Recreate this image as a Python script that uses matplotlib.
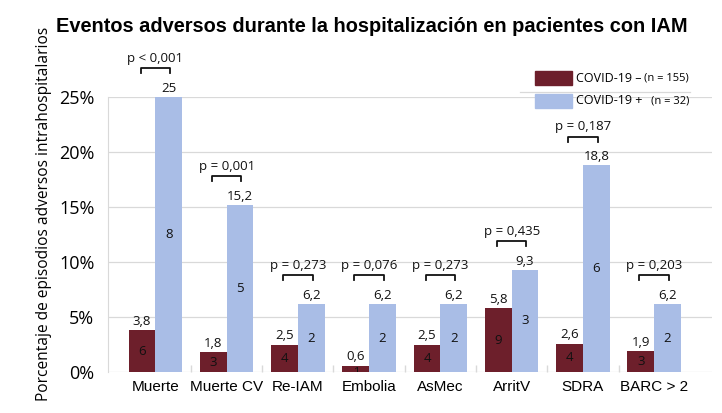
import matplotlib
matplotlib.use("Agg")
import matplotlib.pyplot as plt
import numpy as np
from matplotlib.patches import Rectangle
from matplotlib.lines import Line2D

categories = ["Muerte", "Muerte CV", "Re-IAM", "Embolia", "AsMec", "ArritV", "SDRA", "BARC > 2"]
neg_pct = [3.8, 1.8, 2.5, 0.6, 2.5, 5.8, 2.6, 1.9]
pos_pct = [25, 15.2, 6.2, 6.2, 6.2, 9.3, 18.8, 6.2]
neg_n = [6, 3, 4, 1, 4, 9, 4, 3]
pos_n = [8, 5, 2, 2, 2, 3, 6, 2]
p_values = ["p < 0,001", "p = 0,001", "p = 0,273", "p = 0,076", "p = 0,273", "p = 0,435", "p = 0,187", "p = 0,203"]
yticks = [0, 5, 10, 15, 20, 25]
ytick_labels = ["0%", "5%", "10%", "15%", "20%", "25%"]

dark = "#6d1f2b"
light = "#a9bde6"
grid_c = "#d9d9d9"

fig = plt.figure(figsize=(7.22, 4.13), dpi=100)
ax = fig.add_axes([0.150, 0.099, 0.836, 0.666])

x = np.arange(len(categories))
w = 0.375
ax.bar(x - w / 2, neg_pct, width=w, color=dark, zorder=3)
ax.bar(x + w / 2, pos_pct, width=w, color=light, zorder=3)

ax.set_ylim(0, 25)
ax.set_xlim(-0.66, 7.81)
ax.set_yticks(yticks)
ax.set_yticklabels(ytick_labels, fontfamily="Open Sans", fontsize=13)
ax.yaxis.grid(True, color=grid_c, linewidth=0.9, zorder=0)
ax.tick_params(axis="y", length=0, pad=10)
ax.set_xticks(x)
ax.set_xticklabels(categories, fontfamily="Liberation Sans", fontsize=11)
ax.tick_params(axis="x", length=0, pad=6)
ax.set_xticks(np.arange(len(categories) - 1) + 0.5, minor=True)
ax.tick_params(axis="x", which="minor", direction="in", length=5, color=grid_c, width=1)
for s in ["top", "right", "bottom"]:
    ax.spines[s].set_visible(False)
ax.spines["left"].set_color(grid_c)

lbl_font = dict(fontfamily="Open Sans", fontsize=9.5, color="#111111")
for i in range(len(categories)):
    ax.text(x[i] - w / 2, neg_pct[i] + 0.2, f"{neg_pct[i]:g}".replace(".", ","),
            ha="center", va="bottom", **lbl_font, zorder=5)
    ax.text(x[i] + w / 2, pos_pct[i] + 0.2, f"{pos_pct[i]:g}".replace(".", ","),
            ha="center", va="bottom", **lbl_font, zorder=5, clip_on=False)
    if neg_pct[i] > 1:
        ax.text(x[i] - w / 2, neg_pct[i] / 2, str(neg_n[i]),
                ha="center", va="center", **lbl_font, zorder=5)
    else:
        ax.text(x[i] - w / 2, 0.0, str(neg_n[i]), ha="center", va="center",
                fontfamily="Open Sans", fontsize=8, color="#111111", zorder=5, clip_on=True)
    ax.text(x[i] + w / 2, pos_pct[i] / 2, str(pos_n[i]),
            ha="center", va="center", **lbl_font, zorder=5)
    top = max(neg_pct[i], pos_pct[i]) + 2.6
    x0, x1 = x[i] - w / 2 - 0.02, x[i] + w / 2 + 0.02
    ax.plot([x0, x0, x1, x1], [top - 0.45, top, top, top - 0.45], color="#111111",
            linewidth=1.3, clip_on=False, zorder=5)
    ax.text(x[i], top + 0.3, p_values[i], ha="center", va="bottom",
            fontfamily="Open Sans", fontsize=9.5, color="#111111", clip_on=False)

W, H = 722, 413
def fx(px): return px / W
def fy(py): return 1 - py / H

fig.text(fx(372), fy(26), "Eventos adversos durante la hospitalización en pacientes con IAM",
         ha="center", va="center", fontfamily="Liberation Sans", fontweight="bold", fontsize=14.4)
fig.text(fx(44), fy(214), "Porcentaje de episodios adversos intrahospitalarios", rotation=90,
         ha="center", va="center", fontfamily="Open Sans", fontsize=11.2)

# legend
fig.patches.append(Rectangle((fx(535), fy(85)), fx(37), 14 / H, color=dark, transform=fig.transFigure))
fig.patches.append(Rectangle((fx(535), fy(108)), fx(37), 14 / H, color=light, transform=fig.transFigure))
fig.lines.append(Line2D([fx(520), fx(690)], [fy(92), fy(92)], color=grid_c, linewidth=0.9, transform=fig.transFigure))
fig.text(fx(576), fy(78), "COVID-19 –", ha="left", va="center", fontfamily="Open Sans", fontsize=9)
fig.text(fx(689), fy(78), "(n = 155)", ha="right", va="center", fontfamily="Open Sans", fontsize=8)
fig.text(fx(576), fy(101), "COVID-19 +", ha="left", va="center", fontfamily="Open Sans", fontsize=9)
fig.text(fx(689), fy(101), "(n = 32)", ha="right", va="center", fontfamily="Open Sans", fontsize=8)

fig.savefig("out.png", dpi=100)
